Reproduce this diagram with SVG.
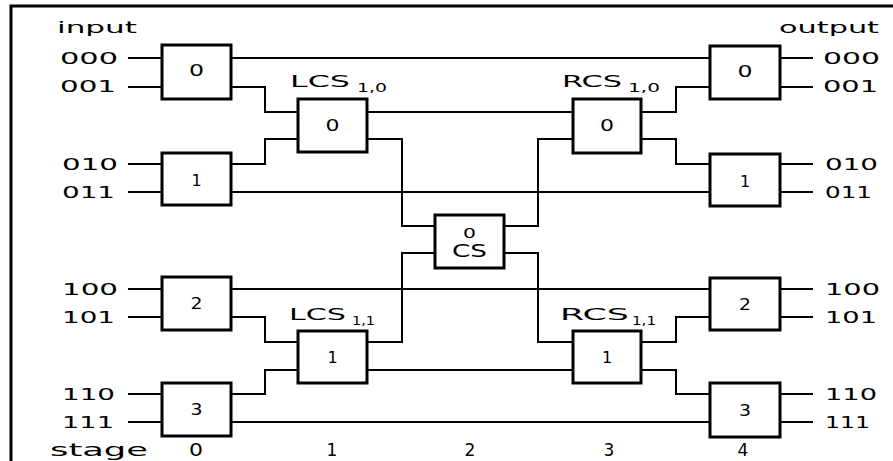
<svg xmlns="http://www.w3.org/2000/svg" width="893" height="461" viewBox="0 0 893 461">
  <style>
    .box { fill: #fff; stroke: #000; stroke-width: 3; }
    .wire { fill: none; stroke: #000; stroke-width: 2; stroke-linejoin: miter; }
    .frame { fill: none; stroke: #000; stroke-width: 3; }
    text { font-family: "DejaVu Sans", "Liberation Sans", sans-serif; fill: #000; }
    .port { font-size: 16px; }
    .head { font-size: 16px; }
    .num { font-size: 16px; text-anchor: middle; }
    .name { font-size: 16px; }
    .sub { font-size: 13px; }
    .stage { font-size: 17px; }
  </style>

  <!-- frame -->
  <path class="frame" d="M11,461 V6 H893"/>

  <!-- connectors -->
  <g id="connectors">
    <!-- input and output stubs -->
    <path class="wire" d="M128,58 H162 M128,87 H162 M128,164 H162 M128,192 H162 M128,289 H162 M128,317 H162 M128,394 H162 M128,422 H162"/>
    <path class="wire" d="M780,58 H813 M780,87 H813 M780,164 H813 M780,192 H813 M780,289 H813 M780,317 H813 M780,394 H813 M780,422 H813"/>
    <!-- straight-through links stage 0 to stage 4 -->
    <path class="wire" d="M231,58 H710 M231,192 H710 M231,289 H710 M231,422 H710"/>
    <!-- stage 0 to stage 1 -->
    <path class="wire" d="M231,87 H265 V112 H298"/>
    <path class="wire" d="M231,164 H265 V139 H298"/>
    <path class="wire" d="M231,317 H265 V342 H298"/>
    <path class="wire" d="M231,394 H265 V370 H298"/>
    <!-- stage 1 to stage 2 / stage 3 -->
    <path class="wire" d="M367,112 H573"/>
    <path class="wire" d="M367,139 H402 V226 H435"/>
    <path class="wire" d="M367,342 H402 V253 H435"/>
    <path class="wire" d="M367,370 H573"/>
    <!-- stage 2 to stage 3 -->
    <path class="wire" d="M504,226 H538 V139 H573"/>
    <path class="wire" d="M504,253 H538 V342 H573"/>
    <!-- stage 3 to stage 4 -->
    <path class="wire" d="M641,112 H676 V87 H710"/>
    <path class="wire" d="M641,139 H676 V164 H710"/>
    <path class="wire" d="M641,342 H676 V317 H710"/>
    <path class="wire" d="M641,370 H676 V394 H710"/>
  </g>

  <!-- stage 0 -->
  <g id="in0"><rect class="box" x="162" y="45" width="69" height="54"/><text class="num" x="196.5" y="76" textLength="15" lengthAdjust="spacingAndGlyphs">0</text></g>
  <g id="in1"><rect class="box" x="162" y="153" width="69" height="52"/><text class="num" x="196.5" y="186">1</text></g>
  <g id="in2"><rect class="box" x="162" y="277" width="69" height="53"/><text class="num" x="196.5" y="309" textLength="12" lengthAdjust="spacingAndGlyphs">2</text></g>
  <g id="in3"><rect class="box" x="162" y="383" width="69" height="53"/><text class="num" x="196.5" y="415" textLength="12" lengthAdjust="spacingAndGlyphs">3</text></g>

  <!-- stage 1 -->
  <g id="lcs10">
    <rect class="box" x="298" y="99" width="69" height="53"/>
    <text class="num" x="332.5" y="131" textLength="14" lengthAdjust="spacingAndGlyphs">0</text>
    <text class="name" x="290" y="87" textLength="60" lengthAdjust="spacingAndGlyphs">LCS</text>
    <text class="sub" x="357" y="92" textLength="30" lengthAdjust="spacingAndGlyphs">1,0</text>
  </g>
  <g id="lcs11">
    <rect class="box" x="298" y="331" width="69" height="52"/>
    <text class="num" x="332.5" y="363">1</text>
    <text class="name" x="289" y="320" textLength="57" lengthAdjust="spacingAndGlyphs">LCS</text>
    <text class="sub" x="352" y="325" textLength="23" lengthAdjust="spacingAndGlyphs">1,1</text>
  </g>

  <!-- stage 2 -->
  <g id="cs">
    <rect class="box" x="435" y="215" width="69" height="53"/>
    <text class="num" x="469.5" y="238" style="font-size:14px" textLength="13" lengthAdjust="spacingAndGlyphs">0</text>
    <text class="num" x="469.5" y="257" style="font-size:17px" textLength="35" lengthAdjust="spacingAndGlyphs">CS</text>
  </g>

  <!-- stage 3 -->
  <g id="rcs10">
    <rect class="box" x="573" y="99" width="68" height="54"/>
    <text class="num" x="607" y="131" textLength="14" lengthAdjust="spacingAndGlyphs">0</text>
    <text class="name" x="562" y="87" textLength="60" lengthAdjust="spacingAndGlyphs">RCS</text>
    <text class="sub" x="628" y="92" textLength="32" lengthAdjust="spacingAndGlyphs">1,0</text>
  </g>
  <g id="rcs11">
    <rect class="box" x="573" y="331" width="68" height="52"/>
    <text class="num" x="607" y="363">1</text>
    <text class="name" x="560" y="320" textLength="69" lengthAdjust="spacingAndGlyphs">RCS</text>
    <text class="sub" x="632" y="325" textLength="24" lengthAdjust="spacingAndGlyphs">1,1</text>
  </g>

  <!-- stage 4 -->
  <g id="out0"><rect class="box" x="710" y="46" width="70" height="53"/><text class="num" x="745" y="77" textLength="15" lengthAdjust="spacingAndGlyphs">0</text></g>
  <g id="out1"><rect class="box" x="710" y="154" width="70" height="52"/><text class="num" x="745" y="187">1</text></g>
  <g id="out2"><rect class="box" x="710" y="278" width="70" height="52"/><text class="num" x="745" y="310" textLength="12" lengthAdjust="spacingAndGlyphs">2</text></g>
  <g id="out3"><rect class="box" x="710" y="383" width="70" height="54"/><text class="num" x="745" y="416" textLength="12" lengthAdjust="spacingAndGlyphs">3</text></g>

  <!-- port labels -->
  <g id="inputs">
    <text class="head" x="57" y="33" textLength="80" lengthAdjust="spacingAndGlyphs">input</text>
    <text class="port" x="60" y="64" textLength="58" lengthAdjust="spacingAndGlyphs">000</text>
    <text class="port" x="60" y="92" textLength="56" lengthAdjust="spacingAndGlyphs">001</text>
    <text class="port" x="62" y="170" textLength="56" lengthAdjust="spacingAndGlyphs">010</text>
    <text class="port" x="62" y="198" textLength="53" lengthAdjust="spacingAndGlyphs">011</text>
    <text class="port" x="62" y="295" textLength="56" lengthAdjust="spacingAndGlyphs">100</text>
    <text class="port" x="62" y="323" textLength="53" lengthAdjust="spacingAndGlyphs">101</text>
    <text class="port" x="62" y="400" textLength="53" lengthAdjust="spacingAndGlyphs">110</text>
    <text class="port" x="62" y="428" textLength="52" lengthAdjust="spacingAndGlyphs">111</text>
  </g>
  <g id="outputs">
    <text class="head" x="779" y="33" textLength="100" lengthAdjust="spacingAndGlyphs">output</text>
    <text class="port" x="823" y="64" textLength="57" lengthAdjust="spacingAndGlyphs">000</text>
    <text class="port" x="823" y="92" textLength="55" lengthAdjust="spacingAndGlyphs">001</text>
    <text class="port" x="825" y="170" textLength="53" lengthAdjust="spacingAndGlyphs">010</text>
    <text class="port" x="825" y="198" textLength="47" lengthAdjust="spacingAndGlyphs">011</text>
    <text class="port" x="825" y="295" textLength="55" lengthAdjust="spacingAndGlyphs">100</text>
    <text class="port" x="825" y="323" textLength="52" lengthAdjust="spacingAndGlyphs">101</text>
    <text class="port" x="825" y="400" textLength="52" lengthAdjust="spacingAndGlyphs">110</text>
    <text class="port" x="825" y="428" textLength="45" lengthAdjust="spacingAndGlyphs">111</text>
  </g>

  <!-- stage axis -->
  <g id="stages">
    <text class="stage" x="50" y="456" textLength="98" lengthAdjust="spacingAndGlyphs">stage</text>
    <text class="stage" x="196" y="456" text-anchor="middle" textLength="14" lengthAdjust="spacingAndGlyphs">0</text>
    <text class="stage" x="332" y="456" text-anchor="middle">1</text>
    <text class="stage" x="470" y="456" text-anchor="middle">2</text>
    <text class="stage" x="609" y="456" text-anchor="middle">3</text>
    <text class="stage" x="743" y="456" text-anchor="middle">4</text>
  </g>
</svg>
